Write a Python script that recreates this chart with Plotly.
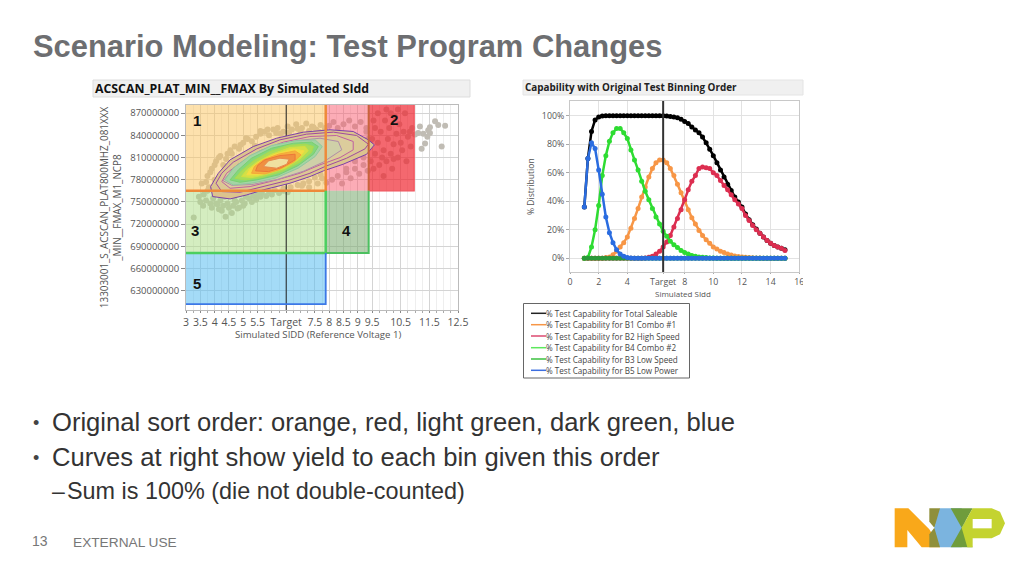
import plotly.graph_objects as go

W, H = 1024, 576
TITLE = "Scenario Modeling: Test Program Changes"
BULLETS = ["Original sort order: orange, red, light green, dark green, blue",
           "Curves at right show yield to each bin given this order"]
SUB = "Sum is 100% (die not double-counted)"

# ---------- left chart data ----------
L_XTICKS = [3, 3.5, 4, 4.5, 5, 5.5, 6.5, 7.5, 8, 8.5, 9, 9.5, 10.5, 11.5, 12.5]
L_XTEXT = ["3", "3.5", "4", "4.5", "5", "5.5", "Target", "7.5", "8", "8.5", "9", "9.5", "10.5", "11.5", "12.5"]
L_YTICKS = [630, 660, 690, 720, 750, 780, 810, 840, 870]
L_YTEXT = ["630000000", "660000000", "690000000", "720000000", "750000000",
           "780000000", "810000000", "840000000", "870000000"]
TARGET = 6.5

PTS_X = [3.27,3.45,3.5,3.6,3.62,3.7,3.75,3.85,3.9,3.95,4.05,4.15,4.2,4.3,4.38,4.45,4.6,4.65,4.75,4.85,4.95,5.05,5.2,5.35,5.5,5.65,5.9,6.1,6.4,6.55,
         3.55,3.75,3.9,4.05,4.2,4.3,4.45,4.55,4.7,4.85,5.0,5.15,5.3,5.45,5.6,5.75,5.9,6.05,6.2,6.4,6.55,6.7,6.85,7.05,7.2,7.4,7.55,7.7,7.85,
         8.0,8.15,8.3,8.5,8.7,8.9,9.1,9.3,8.1,8.3,8.45,8.6,8.75,8.9,9.05,9.2,9.35,7.6,7.75,7.9,7.3,7.05,
         9.45,9.55,9.6,9.7,9.75,9.8,9.9,9.95,10.0,10.05,10.1,10.15,10.2,10.25,10.3,10.35,10.4,10.45,10.5,10.55,10.6,10.65,10.7,10.75,10.85,10.9,9.5,9.6,9.7,9.85,10.0,10.25,10.15,9.9,10.4,9.55,
         11.17,11.46,11.52,11.7,11.81,12.05,11.93,11.35,11.23,11.11,11.29,11.52,11.43,11.0,10.82,
         8.2,8.5,8.8,9.1,9.3,8.6,8.9,9.2,9.35,9.3,
         3.7,3.85,4.0,4.1,4.25,4.35,4.5,4.7,4.8,5.0,5.1,5.3,5.45,5.6,5.8,6.0,6.25,6.4,6.65,6.9,7.1,7.3,7.5,7.7,
         3.8,4.0,4.15,4.4,4.6,4.9,5.1,5.4,5.6,5.85,6.15,6.3,6.6,6.9,7.0,7.3,7.45,7.65,7.85]
PTS_Y = [729,757,750,745,760,752,765,748,742,755,748,740,752,745,730,748,735,745,750,742,752,748,755,758,760,762,764,766,768,763,
         775,785,795,805,812,800,815,820,825,822,830,835,832,838,842,845,840,848,850,845,852,848,855,850,856,852,848,854,850,
         853,858,850,855,860,852,858,850,780,785,775,790,782,795,788,800,792,775,782,776,770,772,
         805,795,815,830,800,845,820,860,805,835,850,815,795,828,865,842,810,855,830,820,845,870,805,838,825,850,835,850,870,810,875,808,870,785,875,860,
         852,847,851,859,854,853,825,829,822,843,842,843,838,841,845,
         815,830,835,830,820,795,805,810,835,845,
         777,790,800,747,738,757,742,752,741,745,757,750,753,757,758,760,762,765,770,773,775,778,783,787,
         770,780,810,808,815,827,836,826,846,848,843,842,844,849,845,846,851,845,848]

# bins: x0, x1, y0, y1
BIN1 = [3.0, 7.88, 765, 881]
BIN2A = [7.88, 9.38, 765, 881]
BIN2B = [9.38, 10.97, 765, 881]
BIN3 = [3.0, 7.88, 681, 765]
BIN4 = [7.88, 9.38, 681, 765]
BIN5 = [3.0, 7.88, 612, 681]

C1_X = [3.86,3.93,4.54,5.12,5.70,6.63,7.33,7.80,8.49,9.31,9.58,9.37,8.84,8.03,7.10,6.17,5.35,4.54,4.13]
C1_Y = [770.8,757.3,754.1,759.5,766.3,775.3,784.3,792,801,814.5,827.2,833.9,845.2,847.5,844.3,836.2,824.9,806.9,788.8]
C2_X = [4.05,4.25,4.89,5.70,6.63,7.33,7.85,8.61,9.25,9.37,8.96,8.15,7.21,6.28,5.47,4.65,4.25]
C2_Y = [775.3,764,763.1,770.8,779.8,788.8,797.8,809.1,821.7,828.1,839.8,844.3,841.6,833.9,821.7,803.7,788.8]
C3_X = [4.25,4.54,5.24,6.17,6.98,7.68,8.38,8.84,8.84,8.26,7.33,6.40,5.58,4.83,4.42]
C3_Y = [777.5,768.5,770.8,779.8,788.8,800.1,810,820.4,831.7,839.8,838.4,830.8,819,801,788.8]
C4_X = [4.30,4.60,5.30,6.20,7.10,7.80,8.44,8.32,7.68,6.87,6.05,5.24,4.55]
C4_Y = [778.5,772.5,773.5,780.5,791.5,804,820.4,831.7,836.1,832.9,822.9,807.1,790.3]
C5_X = [4.36,4.65,5.29,6.11,6.92,7.51,7.76,7.51,6.81,5.99,5.24,4.65]
C5_Y = [779.8,773,775.3,782,795.6,811.4,824.9,833.9,832.6,826.3,812.7,795.6]
C6_X = [4.54,4.89,5.47,6.23,6.92,7.45,7.62,7.39,6.75,5.99,5.29,4.83]
C6_Y = [779.8,776.6,779.8,786.6,799.2,814.5,824.9,830.8,829.4,822.6,809.1,793.3]
C7_X = [4.71,5.06,5.64,6.34,6.98,7.39,7.45,7.16,6.57,5.93,5.35,4.94]
C7_Y = [782,779.8,783,791,803.7,817.2,824.9,828.1,826.3,818.1,805.5,792]
C8_X = [4.94,5.29,5.82,6.46,6.98,7.27,7.16,6.63,5.99,5.47,5.12]
C8_Y = [784.3,783,787.5,795.6,808.2,819,824.9,823.5,814.5,803.7,793.3]
C9_X = [5.12,5.53,5.99,6.57,6.98,7.13,6.75,6.11,5.57,5.24]
C9_Y = [786.6,786.6,791,800.1,811.4,819,821.7,814.5,804.6,794.7]
C10_X = [5.29,5.76,6.23,6.75,7.02,6.81,6.23,5.70,5.39]
C10_Y = [788.8,787.9,793.3,803.7,813.6,819,814.5,806.9,797.8]
C11_X = [5.43,5.88,6.34,6.81,6.81,6.28,5.76,5.50]
C11_Y = [792,791,796.5,806.9,814.5,812.7,806.9,799.2]
C12_X = [5.70,6.17,6.52,6.60,6.28,5.88]
C12_Y = [797.8,795.6,801,807.8,809.1,805.5]

# ---------- right chart data ----------
R_XTICKS = [0, 2, 4, 6.5, 8, 10, 12, 14, 16]
R_XTEXT = ["0", "2", "4", "Target", "8", "10", "12", "14", "16"]
R_YTICKS = [0, 20, 40, 60, 80, 100]
R_YTEXT = ["0%", "20%", "40%", "60%", "80%", "100%"]
SIDD = [1,1.25,1.5,1.75, 2,2.25,2.5,2.75, 3,3.25,3.5,3.75, 4,4.25,4.5,4.75, 5,5.25,5.5,5.75, 6,6.25,6.5,6.75,
        7,7.25,7.5,7.75, 8,8.25,8.5,8.75, 9,9.25,9.5,9.75, 10,10.25,10.5,10.75, 11,11.25,11.5,11.75,
        12,12.25,12.5,12.75, 13,13.25,13.5,13.75, 14,14.25,14.5,14.75, 15]
TOTAL = [36,70,89,97, 99,99.7,100,100, 100,100,100,100, 100,100,100,100, 100,100,100,100, 100,100,100,99.8,
         99.5,99,98.5,97.5, 96,94.5,92,90, 88,85,81,76.5, 72,67,62,57, 52,47.5,43,39.5,
         36,31,27,23.5, 20.5,17.5,15,12.5, 10.5,9,8,7, 6]
B1 = [0,0,0,0, 0,0,0.5,1, 2.5,5,8,11, 15,21,28,35, 43,50,57,63, 67,69,69,67,
      63,58,52,46, 40,34,28.5,24, 19.5,16,13,10.5, 8,6.5,5,4, 3,2.3,1.7,1.2,
      0.9,0.7,0.5,0.4, 0.3,0.2,0.1,0.1, 0,0,0,0, 0]
B2 = [0,0,0,0, 0,0,0,0, 0,0,0,0, 0,0,0,0, 0,0.3,0.8,1.5, 3,5,8,11.5,
      16,22,28,34, 41,48,54,58, 63,64,63.5,63, 60,58,54.5,51, 48,44.5,41,38,
      35,30,26.5,23, 20,17.5,15,12.5, 10.5,9,8,7, 5.5]
B4 = [0,0.5,8,20, 37,58,72,82, 88,91,91,88, 84,76,69,62, 54,47,41,35, 29,24,19,15.5,
      12,9.5,7.5,5.5, 4,3,2,1.5, 1,0.7,0.5,0.3, 0.2,0.1,0,0, 0,0,0,0,
      0,0,0,0, 0,0,0,0, 0,0,0,0, 0]
B3 = [0,0,0,0, 0,0,0,0, 0,0,0,0, 0,0,0,0, 0,0,0,0, 0,0,0,0,
      0,0,0,0, 0,0,0,0, 0,0,0,0, 0,0,0,0, 0,0,0,0,
      0,0,0,0, 0,0,0,0, 0,0,0,0, 0]
B5 = [36,70,81,77, 62,45,29,18, 11,6,3,1.5, 0.5,0.2,0,0, 0,0,0,0, 0,0,0,0,
      0,0,0,0, 0,0,0,0, 0,0,0,0, 0,0,0,0, 0,0,0,0,
      0,0,0,0, 0,0,0,0, 0,0,0,0, 0]
LEGEND = ["% Test Capability for Total Saleable", "% Test Capability for B1 Combo #1",
          "% Test Capability for B2 High Speed", "% Test Capability for B4 Combo #2",
          "% Test Capability for B3 Low Speed", "% Test Capability for B5 Low Power"]

SANS = "Liberation Sans"
UI = "Open Sans"
GREY = "#6d6e71"
TICK = "#555555"

def px(x): return x / W
def py(y): return 1 - y / H

fig = go.Figure()

# ----- left chart traces -----
ax = dict(xaxis="x", yaxis="y", hoverinfo="skip", showlegend=False)
fig.add_trace(go.Scatter(x=PTS_X, y=PTS_Y, mode="markers",
                         marker=dict(size=6, color="#c0bcb4", line=dict(width=0)), **ax))

def rect(b, fill, line, lw=0):
    x0, x1, y0, y1 = b
    fig.add_trace(go.Scatter(x=[x0, x1, x1, x0, x0], y=[y0, y0, y1, y1, y0], mode="lines", fill="toself",
                             fillcolor=fill, line=dict(width=lw, color=line), **ax))

def edge(xs, ys, color, lw=2.5):
    fig.add_trace(go.Scatter(x=xs, y=ys, mode="lines", line=dict(width=lw, color=color), **ax))

rect(BIN1, "rgba(252,196,92,0.50)", "rgba(0,0,0,0)")
rect(BIN2A, "rgba(250,90,110,0.50)", "rgba(0,0,0,0)")
rect(BIN2B, "rgba(240,40,50,0.70)", "rgba(0,0,0,0)")
rect(BIN3, "rgba(170,220,130,0.50)", "rgba(0,0,0,0)")
rect(BIN4, "rgba(120,170,110,0.55)", "rgba(0,0,0,0)")
rect(BIN5, "rgba(90,190,240,0.55)", "rgba(0,0,0,0)")
edge([TARGET, TARGET], [604, 881], "#222222", 1)

def contour(xs, ys, line, fill=None, lw=1):
    kw = dict(fill="toself", fillcolor=fill) if fill else {}
    fig.add_trace(go.Scatter(x=xs + xs[:1], y=ys + ys[:1], mode="lines", line=dict(width=lw, color=line), **kw, **ax))

contour(C1_X, C1_Y, "#7b3fa8", "#dcc38e")
contour(C2_X, C2_Y, "#a04aa0", "#dcc894")
contour(C3_X, C3_Y, "#c060a0", "#dccc9c")
contour(C4_X, C4_Y, "#b08ca8", "#cfd0a8")
contour(C5_X, C5_Y, "#90c8a0", "#a4d4a4")
contour(C6_X, C6_Y, "#78d070", "#86d67c")
contour(C7_X, C7_Y, "#a8dc50", "#aadc58")
contour(C8_X, C8_Y, "#d4e040", "#d4e048")
contour(C9_X, C9_Y, "#f4dc40", "#f4dc44")
contour(C10_X, C10_Y, "#f4a838", "#f6b040")
contour(C11_X, C11_Y, "#ec7838", "#f09040")
contour(C12_X, C12_Y, "#e88a50", "#f0e0a0")

edge([BIN1[0], BIN1[1], BIN1[1]], [BIN1[2], BIN1[2], BIN1[3]], "#ee8a3a", 2.5)
edge([BIN2A[1], BIN2A[1]], [BIN2A[2], BIN2A[3]], "#c8643c", 2)
edge([BIN2B[1], BIN2B[1], BIN2B[0]], [BIN2B[3], BIN2B[2], BIN2B[2]], "#f0505a", 1.2)
edge([BIN3[0], BIN3[1], BIN3[1]], [BIN3[2], BIN3[2], BIN3[3]], "#4ccf60", 2.5)
edge([BIN4[0], BIN4[1], BIN4[1]], [BIN4[2], BIN4[2], BIN4[3]], "#4cc060", 2)
edge([BIN5[0], BIN5[1], BIN5[1]], [BIN5[2], BIN5[2], BIN5[3]], "#3c78e6", 1.8)

# ----- right chart traces -----
ax2 = dict(xaxis="x2", yaxis="y2", hoverinfo="skip", showlegend=False, mode="lines+markers")
for vals, col in [(TOTAL, "#000000"), (B1, "#f79646"), (B2, "#dc2e50"), (B4, "#2edc32"), (B3, "#2a9a3a"), (B5, "#2a6ce0")]:
    fig.add_trace(go.Scatter(x=SIDD, y=vals, line=dict(width=2.5, color=col),
                             marker=dict(size=5, color=col), cliponaxis=False, **ax2))
edge_ax = dict(xaxis="x2", yaxis="y2", hoverinfo="skip", showlegend=False, mode="lines")
fig.add_trace(go.Scatter(x=[TARGET, TARGET], y=[-9.8, 110.3], line=dict(width=2, color="#333333"), **edge_ax))

shapes = []
def box(x0, y0, x1, y1, fill, line="rgba(0,0,0,0)", lw=0, layer="above"):
    shapes.append(dict(type="rect", xref="paper", yref="paper", x0=px(x0), x1=px(x1), y0=py(y0), y1=py(y1),
                       fillcolor=fill, line=dict(color=line, width=lw), layer=layer))
def poly(points, fill):
    d = "M" + " L".join(f"{px(880 + a / 3):.5f},{py(495 + b / 3):.5f}" for a, b in points) + " Z"
    shapes.append(dict(type="path", xref="paper", yref="paper", path=d, fillcolor=fill, line=dict(width=0), layer="above"))

box(93, 80, 470, 97, "#f0f0f0", "#dddddd", 1)
box(523, 80, 803, 95, "#f0f0f0", "#e4e4e4", 1)
box(803, 98, 840, 300, "#ffffff")
box(523.5, 303.5, 689.5, 378, "#ffffff", "#666666", 1)

# NXP logo
poly([(44,40),(85,40),(148,103),(180,157),(125,157),(82,105),(82,157),(44,157)], "#f9a81a")
poly([(148,40),(180,40),(180,60),(163,98),(148,80)], "#8f8f3a")
poly([(148,157),(148,118),(163,98),(180,125),(180,157)], "#8f8f3a")
poly([(180,40),(212,40),(245,98),(212,157),(180,157),(163,98)], "#7bb4df")
poly([(212,40),(245,40),(262,98),(245,157),(212,157),(228,98)], "#7bb4df")
poly([(212,40),(278,40),(245,98)], "#6f9c3c")
poly([(212,157),(278,157),(245,98)], "#6f9c3c")
poly([(278,40),(335,40),(360,50),(375,85),(360,118),(335,130),(278,130),(278,157),(262,157),(245,98)], "#c4d330")
box(880 + 278 / 3, 495 + 72 / 3, 880 + 335 / 3, 495 + 100 / 3, "#ffffff")

annos = []
def text(x, y, s, size, color="#333333", family=SANS, bold=False, anchor="left", angle=0):
    annos.append(dict(xref="paper", yref="paper", x=px(x), y=py(y),
                      text=f"<b>{s}</b>" if bold else s,
                      showarrow=False, xanchor=anchor, yanchor="middle", textangle=angle,
                      font=dict(size=size, color=color, family=family), borderpad=0, borderwidth=0))

text(33, 47, TITLE, 30.9, GREY, bold=True)
text(33, 423, "•", 18, "#444444")
text(33, 458, "•", 18, "#444444")
text(52, 422, BULLETS[0], 25.6, "#333333")
text(52, 457, BULLETS[1], 25.6, "#333333")
text(52, 491, "–", 23, "#333333")
text(67, 491, SUB, 23.4, "#333333")
text(32, 541, "13", 14, "#777777")
text(73, 542, "EXTERNAL USE", 13.7, "#777777")
text(95, 89, "ACSCAN_PLAT_MIN__FMAX By Simulated SIdd", 12.3, "#111111", UI, True)
text(525, 87, "Capability with Original Test Binning Order", 9.9, "#222222", UI, True)
text(318, 334, "Simulated SIDD (Reference Voltage 1)", 9.6, TICK, UI, anchor="center")
text(682.7, 293, "Simulated SIdd", 8, TICK, UI, anchor="center")
for n, x, y in [("1", 197, 121), ("2", 394, 119), ("3", 195, 230), ("4", 346, 230), ("5", 197, 283)]:
    text(x, y, n, 15, "#111111", SANS, True, "center")

LEG_COL = ["#222222", "#f79646", "#dc4a70", "#5de85d", "#3cc040", "#3c6ee0"]
LEG_Y = [313.3, 324.7, 336, 347.7, 359, 370.3]
for s, c, y in zip(LEGEND, LEG_COL, LEG_Y):
    shapes.append(dict(type="line", xref="paper", yref="paper", x0=px(531), x1=px(546), y0=py(y), y1=py(y),
                       line=dict(color=c, width=1.5), layer="above"))
    text(546, y, s, 8.1, "#444444", UI)

fig.update_layout(
    width=W, height=H, autosize=False, margin=dict(l=0, r=0, t=0, b=0),
    paper_bgcolor="white", plot_bgcolor="white", showlegend=False,
    shapes=shapes, annotations=annos,
    xaxis=dict(domain=[px(186), px(458)], range=[3, 12.5], tickmode="array", tickvals=L_XTICKS, ticktext=L_XTEXT, automargin=False,
               tickangle=0, tickfont=dict(size=10.5, color=TICK, family=UI), ticks="outside", ticklen=2, tickcolor="#888888",
               showgrid=True, gridcolor="#d4d4d4", gridwidth=1, zeroline=False, showline=True, linecolor="#bbbbbb", mirror=True,
               minor=dict(dtick=0.25, showgrid=True, gridcolor="#eeeeee", ticks="outside", ticklen=2, tickcolor="#aaaaaa")),
    yaxis=dict(domain=[py(310), py(105)], range=[604, 881], tickmode="array", tickvals=L_YTICKS, ticktext=L_YTEXT, automargin=False,
               tickfont=dict(size=9.5, color=TICK, family=UI), ticks="outside", ticklen=4, tickcolor="#888888",
               showgrid=True, gridcolor="#d4d4d4", gridwidth=1, zeroline=False, showline=True, linecolor="#bbbbbb", mirror=True,
               title=dict(text="13303001_S_ACSCAN_PLAT800MHZ_081XXX<br>_MIN__FMAX_M1_NCP8",
                          font=dict(size=9.9, color=TICK, family=UI), standoff=6)),
    xaxis2=dict(domain=[px(570), px(799.3)], range=[0, 16], tickmode="array", tickvals=R_XTICKS, ticktext=R_XTEXT, anchor="y2", automargin=False,
                tickangle=0, tickfont=dict(size=8.8, color=TICK, family=UI), ticks="outside", ticklen=1, tickcolor="#aaaaaa",
                showgrid=True, gridcolor="#e2e2e2", zeroline=False, showline=True, linecolor="#c8c8c8", mirror=True),
    yaxis2=dict(domain=[py(272.3), py(101)], range=[-9.8, 110.3], tickmode="array", tickvals=R_YTICKS, ticktext=R_YTEXT, anchor="x2", automargin=False,
                tickfont=dict(size=8.8, color=TICK, family=UI), ticks="outside", ticklen=3, tickcolor="#aaaaaa",
                showgrid=True, gridcolor="#e2e2e2", zeroline=False, showline=True, linecolor="#c8c8c8", mirror=True,
                title=dict(text="% Distribution", font=dict(size=8.6, color=TICK, family=UI), standoff=5)),
)
fig.write_html("out.html", config={"displayModeBar": False},
               post_script="document.body.style.margin='0';document.documentElement.style.overflow='hidden';")
